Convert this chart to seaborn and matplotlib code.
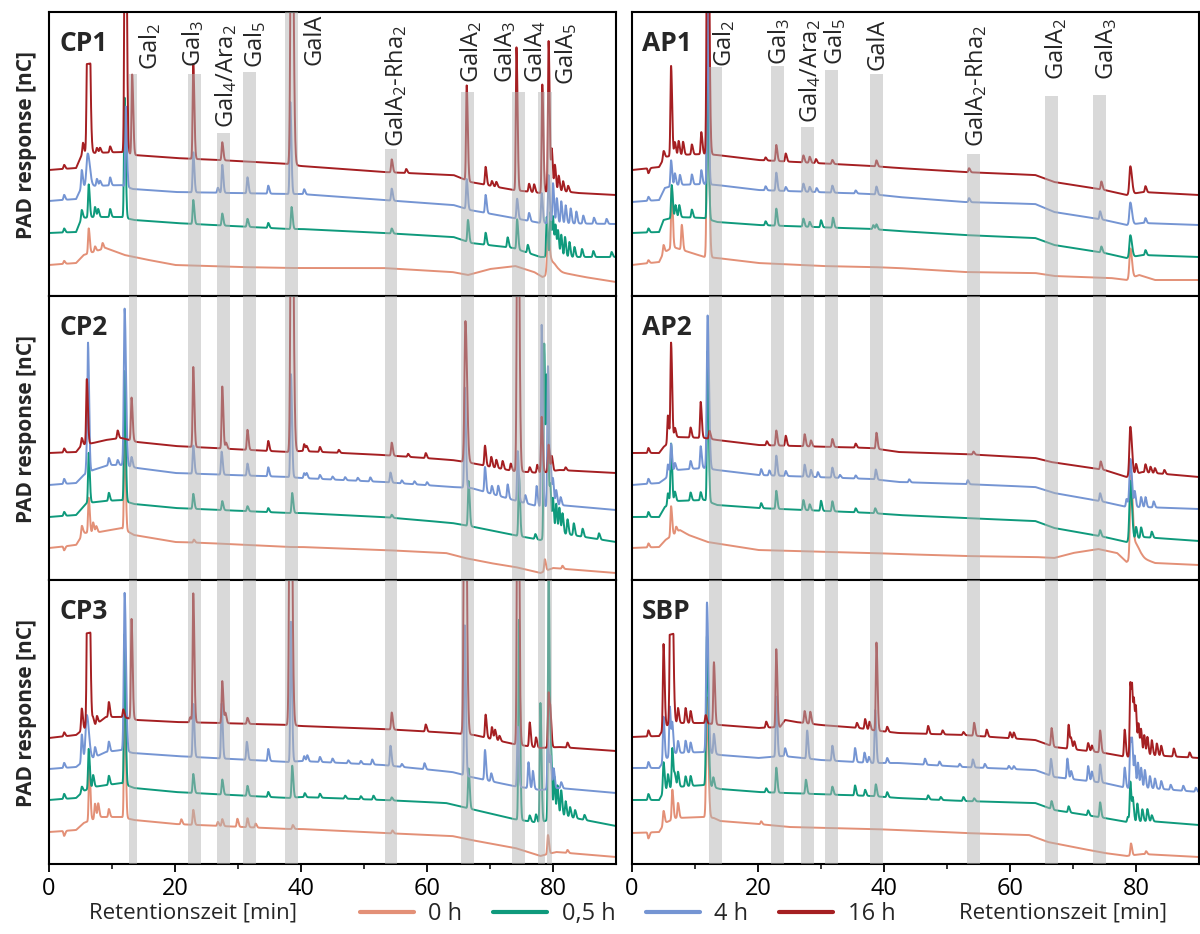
import numpy as np
import pandas as pd
import matplotlib.pyplot as plt
import seaborn as sns
from matplotlib.lines import Line2D

# Hydrolysezeiten und Farben
zeiten = ['0 h', '0,5 h', '4 h', '16 h']
farben = ['#e39077', '#0f9a7c', '#7595d3', '#a51f22']

# Markierte Retentionsfenster (links: CP, rechts: AP/SBP)
banden_links = ['Gal$_2$', 'Gal$_3$', 'Gal$_4$/Ara$_2$', 'Gal$_5$', 'GalA', 'GalA$_2$-Rha$_2$',
                'GalA$_2$', 'GalA$_3$', 'GalA$_4$', 'GalA$_5$']
start_links = [12.7, 22.1, 26.7, 30.8, 37.5, 53.3, 65.4, 73.5, 77.6, 79.0]
ende_links = [13.9, 24.1, 28.7, 32.8, 39.5, 55.3, 67.4, 75.5, 78.7, 79.8]

banden_rechts = ['Gal$_2$', 'Gal$_3$', 'Gal$_4$/Ara$_2$', 'Gal$_5$', 'GalA', 'GalA$_2$-Rha$_2$',
                 'GalA$_2$', 'GalA$_3$']
start_rechts = [12.3, 22.1, 26.9, 30.6, 37.8, 53.2, 65.6, 73.1]
ende_rechts = [14.3, 24.1, 28.9, 32.7, 39.8, 55.2, 67.6, 75.2]

# Chromatogramme: Basislinie (Zeit, Signal) und Peaks (Zeit, Höhe[, Breite[, flach]])
CP1_BASIS = {
    '0 h': [(0, 31), (4.3, 33), (5.5, 41), (6.5, 43), (9, 48), (12, 41), (15, 37), (20, 31), (30, 29), (38, 28),
            (53, 28), (64, 24), (66.5, 21), (70, 27), (74, 30), (77, 24), (78.3, 19), (81, 24), (85, 19), (90, 14)],
    '0,5 h': [(0, 63), (4.3, 64), (5.2, 78), (7, 79), (11.5, 79), (13.5, 76), (20, 73), (38, 67), (40, 67), (53, 63),
              (64.2, 59), (67, 53), (73.7, 48), (78, 39), (90, 39)],
    '4 h': [(0, 95), (4.3, 97), (5.2, 109), (7, 110), (11.5, 111), (13.3, 107), (20, 104), (38, 102), (40, 102),
            (53, 96), (64.2, 91), (66.8, 86), (73.7, 78), (78, 73), (90, 72)],
    '16 h': [(0, 126), (4.3, 128), (5.2, 141), (7, 143), (11.5, 144), (13.5, 141), (20, 138), (30, 135), (38, 132),
             (40, 130), (53, 124), (64.2, 121), (66.9, 114), (73.7, 106), (78, 103), (80, 106), (84, 103), (90, 101)],
}
CP1_PEAKS = {
    '0 h': [(2.4, 3), (6.3, 25), (7.3, 5), (8.5, 6), (79.2, 35, 0.15), (79.8, 12, 0.4)],
    '0,5 h': [(2.4, 4), (5.2, 8), (6.3, 33), (7.3, 10), (7.8, 8), (9.7, 8), (12.0, 120), (22.9, 24), (27.5, 12),
              (31.5, 8), (34.8, 5), (38.5, 22), (54.4, 5), (66.5, 22), (69.3, 12), (72.8, 10), (74.3, 30), (76, 8),
              (79.0, 40), (79.6, 45), (80.0, 38), (80.4, 30), (80.8, 25), (81.3, 22), (81.9, 20), (82.6, 15),
              (83.4, 10), (84.6, 8), (86.4, 6), (89.3, 5)],
    '4 h': [(2.4, 5), (5.2, 17), (6.15, 33, 0.2), (7.6, 7), (8.1, 5), (9.7, 8), (12.2, 80), (22.9, 40), (26.8, 5),
            (27.5, 28), (31.5, 16), (34.8, 8), (38.3, 92), (40.5, 5), (54.4, 12), (66.3, 30), (69.3, 18), (74.3, 20),
            (76.2, 8), (78.2, 30), (79.3, 48), (80.0, 40), (80.6, 25), (81.3, 22), (82.0, 18), (82.8, 15), (83.7, 12),
            (84.8, 8), (86.5, 6), (88.5, 5)],
    '16 h': [(2.4, 4), (5.4, 12), (6.2, 90, 0.15, True), (7.6, 5), (8.1, 5), (9.7, 6), (12.1, 400, 0.12),
             (13.2, 80), (22.9, 95), (27.5, 18), (38.5, 400, 0.15), (54.4, 13), (56.7, 4), (66.3, 95), (69.3, 18),
             (70.3, 5), (71, 5), (74.2, 143), (76.2, 8), (77, 8), (78.3, 108), (79.3, 150), (79.8, 40), (80.3, 25),
             (80.9, 15), (81.6, 10), (82.4, 6)],
}

CP2_BASIS = {
    '0 h': [(0, 32), (4.3, 35), (5.5, 47), (8, 48), (11.5, 52), (13.5, 45), (20, 38), (25, 37), (38, 33), (40, 33),
            (53, 30), (63, 27), (66, 22), (70, 17), (74, 13), (78, 7), (80, 12), (90, 7)],
    '0,5 h': [(0, 63), (4.3, 65), (6, 77), (9, 79), (11.5, 80), (13.5, 76), (20, 72), (38, 67), (40, 67), (53, 63),
              (64, 57), (67.5, 53), (73.7, 45), (78, 40), (81, 47), (90, 38)],
    '4 h': [(0, 95), (4.3, 97), (5.5, 105), (7, 110), (9.5, 115), (11.5, 115), (14, 112), (20, 107), (38, 103),
            (40, 102), (53, 98), (64, 93), (67, 92), (73.7, 80), (78, 73), (81, 75), (90, 70)],
    '16 h': [(0, 127), (4.3, 128), (5.2, 135), (7, 137), (9, 140), (11.5, 142), (14, 138), (20, 134), (38, 128),
             (40, 129), (53, 125), (64, 120), (67, 117), (73.7, 109), (78, 107), (81, 110), (90, 107)],
}
CP2_PEAKS = {
    '0 h': [(2.4, -4), (5.2, 10), (6.3, 35), (7.0, 10), (7.5, 6), (12.0, 100), (23, 3), (78.7, 12), (81.5, 3)],
    '0,5 h': [(2.4, 4), (6.3, 50), (9.5, 8), (12.0, 130), (22.9, 15), (27.5, 9), (31.5, 5), (34.8, 4), (38.6, 20),
              (54.4, 3), (66.6, 45), (74.6, 60), (77.2, 5), (78.6, 195), (79.0, 150), (79.3, 50), (79.6, 40),
              (80.0, 35), (80.5, 30), (81.0, 25), (81.5, 20), (82.3, 15), (83.3, 12), (84.7, 8), (87.3, 6)],
    '4 h': [(2.4, 5), (6.0, 20), (6.2, 120), (9.5, 7), (10.9, 5), (12.0, 157, 0.13), (13.1, 10), (22.9, 28),
            (27.4, 23), (31.5, 12), (34.8, 9), (38.4, 103), (40.5, 5), (40.9, 5), (43, 4), (45, 3), (47, 3), (49, 3),
            (51, 4), (54.2, 10), (56, 3), (58, 3), (60, 3), (66.0, 100), (69.2, 25), (70.3, 8), (71.3, 10),
            (72.8, 14), (74.4, 50), (75.6, 8), (77.4, 20), (78.2, 182), (79.2, 140), (79.6, 40), (80.0, 25),
            (80.5, 15), (81.2, 8)],
    '16 h': [(2.4, 4), (5.2, 7), (6.0, 65), (10.9, 8), (13.1, 43), (22.9, 80), (27.5, 62), (28.1, 6), (31.5, 20),
             (34.8, 10), (38.5, 400, 0.15), (40.5, 7), (40.9, 5), (43, 5), (46, 3), (54.4, 13), (57, 3), (59.8, 5),
             (66.1, 141, 0.15), (69.2, 20), (70.2, 10), (71, 8), (72, 8), (73.3, 7), (74.4, 400, 0.13), (76.3, 5),
             (77.5, 8), (78.2, 56), (79.3, 27), (79.8, 15), (82, 3)],
}

CP3_BASIS = {
    '0 h': [(0, 32), (4.3, 34), (5.5, 41), (8, 47), (11.5, 47), (13.5, 44), (20, 40), (38, 35), (40, 35), (53, 31),
            (64, 28), (67, 24), (74, 16), (78, 8), (80.5, 12), (90, 7)],
    '0,5 h': [(0, 64), (4.3, 66), (5.5, 73), (7, 77), (11.5, 81), (13.5, 76), (20, 72), (38, 66), (40, 67), (53, 64),
              (63, 61), (67, 55), (73.7, 45), (78, 41), (81, 49), (90, 38)],
    '4 h': [(0, 95), (4.3, 97), (5.5, 103), (7, 106), (9, 112), (11.5, 114), (13.3, 111), (20, 108), (38, 102),
            (40, 103), (53, 99), (64, 92), (67, 87), (73.7, 78), (78, 74), (81, 76), (90, 71)],
    '16 h': [(0, 126), (4.3, 129), (5.5, 135), (7, 137), (9, 147), (11.5, 147), (14, 144), (20, 142), (27, 141),
             (38, 139), (40, 138), (53, 135), (64, 131), (67.5, 129), (73.7, 120), (78, 116), (81, 117), (90, 113)],
}
CP3_PEAKS = {
    '0 h': [(2.4, -5), (6.4, 55), (7.3, 15), (7.8, 14), (9.5, 8), (12.0, 140), (21, 5), (22.9, 15), (26.8, 4),
            (27.5, 7), (29.9, 8), (31.5, 9), (32.8, 4), (38.7, 4), (54.5, 3), (79.2, 19), (82.3, 3)],
    '0,5 h': [(2.4, 5), (5.2, 6), (6.3, 40), (7.0, 12), (9.5, 9), (12.0, 150), (22.9, 19), (27.5, 15), (31.5, 10),
              (34.8, 5), (38.6, 32), (40.6, 4), (43, 4), (47, 3), (49.5, 3), (51.5, 4), (54.4, 3), (66.6, 40),
              (74.6, 200), (76.3, 6), (77.3, 8), (78.0, 120), (79.3, 250), (79.7, 60), (80.2, 40), (80.7, 30),
              (81.3, 25), (82, 15), (82.7, 10), (83.5, 8), (85, 5)],
    '4 h': [(2.4, 5), (5.2, 28), (6.0, 45, 0.2), (7.3, 10), (9.5, 10), (12.0, 158, 0.13), (22.9, 53), (27.4, 55),
            (31.4, 18), (34.8, 12), (38.4, 140), (40.5, 5), (41, 6), (43, 5), (45, 4), (47.5, 3), (49.5, 3),
            (51.3, 5), (54.2, 20), (56, 3), (59.6, 6), (66.0, 150), (69.2, 30), (70.2, 8), (74.4, 60), (76.1, 26),
            (76.8, 18), (79.2, 50), (79.6, 30), (80.1, 20), (81.3, 6)],
    '16 h': [(2.4, 4), (5.2, 22), (6.2, 95, 0.15, True), (7.0, 8), (7.6, 8), (9.5, 15), (11.8, 8), (13.1, 100),
             (22.4, 5), (22.9, 129), (27.5, 42), (28, 10), (31.5, 6), (38.3, 400, 0.15), (54.4, 17), (59.8, 7),
             (66.0, 400, 0.15), (69.3, 23), (70.3, 12), (70.8, 10), (71.5, 5), (74.4, 400, 0.12), (76.3, 24),
             (77.3, 10), (79.3, 55), (79.6, 28), (82.3, 5)],
}

AP1_BASIS = {
    '0 h': [(0, 31), (4.3, 34), (5, 43), (6.5, 49), (11.5, 39), (13.5, 38), (20, 33), (30, 30), (38, 29), (42.3, 28),
            (52.6, 24), (64, 23), (67, 20), (71, 19), (76, 18), (78.5, 16), (80.5, 21), (83, 16), (90, 16)],
    '0,5 h': [(0, 63), (4.3, 64), (5, 76), (7, 79), (11.5, 78), (13.5, 74), (20, 71), (38, 67), (42.3, 65),
              (52.6, 61), (64, 58), (67, 51), (75, 43), (78.5, 38), (81, 41), (90, 39)],
    '4 h': [(0, 94), (4.3, 96), (5.2, 108), (7, 111), (11.5, 112), (13.5, 111), (20, 106), (38, 102), (42.3, 99),
            (52.6, 94), (64, 92), (67, 84), (75, 76), (78.5, 71), (81, 73), (90, 71)],
    '16 h': [(0, 126), (4.3, 129), (5.2, 139), (7, 141), (11.5, 142), (13.5, 141), (20, 136), (38, 130), (42.3, 128),
             (52.6, 124), (64, 121), (67, 114), (75, 106), (78.5, 101), (81, 104), (84, 103), (90, 101)],
}
AP1_PEAKS = {
    '0 h': [(2.6, 3), (5.0, 8), (6.3, 60), (7.9, 25), (12.0, 240, 0.13), (79.1, 30, 0.15)],
    '0,5 h': [(2.6, 4), (6.3, 33), (6.9, 12), (7.5, 12), (9.5, 8), (12.0, 180), (21.2, 4), (22.9, 17), (27.2, 8),
              (28.2, 5), (30, 7), (31.9, 10), (38.3, 4), (38.8, 5), (74.5, 6), (79.1, 22, 0.15), (81.5, 5)],
    '4 h': [(2.6, 4), (6.2, 26), (6.8, 12), (7.6, 10), (9.5, 10), (11.0, 14), (12.0, 200), (21.2, 4), (22.9, 18),
            (24.4, 4), (27.2, 8), (28.2, 5), (29.3, 4), (31.8, 7), (35.5, 3), (38.8, 8), (53.5, 4), (74.3, 8),
            (79.1, 22, 0.15), (81.5, 5)],
    '16 h': [(2.6, -5), (5.0, 8), (6.2, 90), (6.8, 13), (7.4, 14), (8.1, 13), (9.5, 10), (11.0, 22),
             (12.0, 400, 0.13), (21.2, 3), (22.9, 16), (24.4, 8), (27.2, 7), (28.2, 6), (29.2, 4), (31.8, 4),
             (38.8, 6), (53.5, 4), (74.5, 8), (79.1, 28, 0.15), (81.5, 6)],
}

AP2_BASIS = {
    '0 h': [(0, 32), (4.3, 33), (5.3, 40), (6.5, 45), (7.6, 50), (9, 45), (12, 38), (15, 35), (20, 30), (38, 27),
            (42.3, 26), (52.6, 24), (64, 23), (67, 22), (70, 27), (74, 31), (77, 27), (78.5, 18), (80, 22), (81, 22),
            (83, 17), (90, 15)],
    '0,5 h': [(0, 63), (4.3, 63), (5.2, 73), (7, 79), (11.5, 80), (13.5, 75), (20, 72), (38, 67), (42.3, 65),
              (52.6, 62), (64, 59), (67, 52), (75, 43), (78.5, 38), (81, 43), (90, 39)],
    '4 h': [(0, 95), (4.3, 97), (5.0, 100), (7, 110), (11.5, 112), (13.5, 110), (20, 105), (38, 101), (42.3, 98),
            (52.6, 96), (64, 93), (67, 87), (75, 78), (78.5, 73), (81, 73), (90, 71)],
    '16 h': [(0, 127), (4.3, 127), (5.0, 133), (7, 143), (11.5, 142), (13.5, 140), (20, 135), (38, 132), (42.3, 128),
             (52.6, 126), (64, 122), (66.5, 118), (75, 110), (78.5, 103), (81, 108), (90, 103)],
}
AP2_PEAKS = {
    '0 h': [(2.6, 4), (6.2, 30), (7.0, 6), (79.2, 80, 0.15), (79.8, 15, 0.4)],
    '0,5 h': [(2.6, 5), (5.7, 12), (6.2, 60), (6.8, 10), (9.3, 8), (10.9, 8), (12.0, 150), (20.5, 5), (22.9, 18),
              (27.2, 10), (28.2, 6), (30, 10), (31.8, 10), (35.5, 4), (38.6, 5), (74.3, 6), (79.1, 60, 0.15),
              (80, 12), (80.8, 10), (82.5, 6)],
    '4 h': [(2.6, 5), (5.7, 12), (6.2, 30), (6.8, 8), (9.3, 8), (10.9, 22), (12.0, 153, 0.13), (20.5, 6), (21.8, 5),
            (22.9, 20), (24.4, 5), (27.4, 12), (28.4, 7), (29.5, 5), (31.8, 10), (33, 3), (35.5, 3), (38.7, 10),
            (44, 3), (53.3, 4), (74.3, 8), (78.5, 8), (79.1, 48, 0.15), (79.8, 15), (80.8, 10), (81.5, 10),
            (82.8, 6)],
    '16 h': [(2.6, 5), (5.7, 28), (6.2, 98), (6.8, 10), (9.3, 10), (10.9, 36), (12.3, 8), (21.4, 4), (22.9, 15),
             (24.4, 10), (27.4, 12), (28.4, 6), (31.8, 8), (35.5, 4), (38.8, 16), (54.2, 3), (74.4, 8),
             (79.1, 49, 0.15), (80, 10), (81.5, 8), (82.3, 6), (83, 5), (84.5, 4)],
}

SBP_BASIS = {
    '0 h': [(0, 31), (4.3, 32), (5.2, 41), (7, 46), (11.5, 47), (13, 46), (14, 43), (20, 40), (25, 37), (38, 35),
            (42.3, 34), (52.6, 31), (63, 29), (66, 22), (70, 17), (75, 11), (78.5, 8), (81, 10), (90, 7)],
    '0,5 h': [(0, 64), (4.3, 64), (5.2, 74), (7, 77), (11.5, 79), (14, 75), (20, 72), (38, 68), (42.3, 66),
              (52.6, 63), (64, 61), (67, 54), (75, 46), (78.5, 42), (82, 43), (90, 39)],
    '4 h': [(0, 96), (4.3, 96), (5.3, 105), (7, 111), (11.5, 112), (14, 109), (20, 106), (24, 108), (30, 104),
            (38, 101), (42.3, 101), (52.6, 97), (64, 94), (67, 87), (75, 81), (78.5, 76), (82, 76), (90, 72)],
    '16 h': [(0, 127), (4.3, 128), (5.3, 138), (7, 141), (11.5, 141), (14, 139), (20, 136), (23.5, 137), (24.3, 144),
             (26, 142), (30, 139), (36, 136), (38, 134), (42.3, 131), (52.6, 129), (64, 124), (67, 117), (75, 111),
             (78.5, 107), (82, 109), (90, 106)],
}
SBP_PEAKS = {
    '0 h': [(2.6, -6), (5.0, 14), (6.4, 30), (7.3, 15), (11.9, 120, 0.13), (20.5, 3), (79.2, 12), (81.6, 3)],
    '0,5 h': [(2.6, 6), (5.0, 30), (5.7, 15), (6.4, 40), (6.8, 12), (7.3, 15), (8.5, 10), (9.3, 10),
              (11.9, 150, 0.13), (12.9, 10), (21.3, 4), (22.9, 25), (27.6, 14), (31.8, 8), (35.4, 10), (37, 6),
              (38.7, 12), (40.5, 5), (47, 4), (49, 3), (52.6, 4), (54.3, 3), (66.6, 8), (69.3, 6), (72.4, 5),
              (74.3, 15), (78.7, 5), (79.1, 40), (79.5, 22), (80.2, 18), (81, 12), (81.8, 12), (82.5, 6)],
    '4 h': [(2.6, 6), (5.0, 45), (6.0, 50), (6.4, 30), (7.3, 12), (8.5, 12), (9.3, 10), (11.9, 150, 0.13), (13, 20),
            (22.9, 60), (24.3, 8), (27.8, 28), (31.8, 15), (35.4, 14), (36.9, 10), (37.6, 6), (38.6, 53), (40.5, 5),
            (46.5, 6), (48.8, 4), (52, 3), (54.1, 8), (56, 4), (59.8, 3), (60.6, 3), (66.5, 17), (69.1, 20),
            (69.7, 8), (72.4, 15), (73, 10), (74.3, 18), (78.2, 20), (79.1, 50), (79.4, 38), (79.8, 30), (80.3, 25),
            (80.8, 20), (81.4, 18), (82.2, 12), (83, 10), (84, 8), (85.5, 5), (87.5, 5), (89.5, 4)],
    '16 h': [(2.6, 6), (5.0, 85), (6.2, 90, 0.15, True), (7.3, 15), (8.5, 15), (9.3, 12), (11.7, 8), (13.0, 62),
             (21.3, 6), (22.9, 78), (27.4, 12), (28.3, 12), (35.7, 5), (37.0, 10), (37.7, 8), (38.8, 88), (40.5, 5),
             (47, 8), (49.3, 4), (52.6, 3), (54.3, 13), (56.3, 7), (60, 6), (60.6, 6), (66.6, 18), (69.3, 24),
             (69.7, 10), (70.2, 8), (72.4, 8), (73, 6), (74.3, 22), (78.2, 27), (79.1, 74), (79.4, 55), (79.7, 45),
             (80.0, 40), (80.4, 30), (80.8, 25), (81.3, 20), (81.8, 18), (82.5, 15), (83.3, 12), (84, 10), (86, 8),
             (88.5, 5)],
}

panels = [
    ('CP1', CP1_BASIS, CP1_PEAKS, 0, 0), ('AP1', AP1_BASIS, AP1_PEAKS, 0, 1),
    ('CP2', CP2_BASIS, CP2_PEAKS, 1, 0), ('AP2', AP2_BASIS, AP2_PEAKS, 1, 1),
    ('CP3', CP3_BASIS, CP3_PEAKS, 2, 0), ('SBP', SBP_BASIS, SBP_PEAKS, 2, 1),
]

t = np.round(np.arange(0, 90.001, 0.02), 3)


def spur(basis, peaks):
    y = np.interp(t, [k[0] for k in basis], [k[1] for k in basis])
    for p in peaks:
        s = p[2] if len(p) > 2 else 0.1
        sig = np.where(t < p[0], s, 1.7 * s)
        g = np.exp(-0.5 * ((t - p[0]) / sig) ** 2)
        if len(p) > 3:
            # abgeschnittener (übersteuerter) Peak
            g = np.minimum(1, 3 * g)
        y = y + p[1] * g
    return y


sns.set_theme(style="ticks")
plt.rcParams['font.family'] = ['Open Sans', 'DejaVu Sans']
plt.rcParams['mathtext.default'] = 'regular'

fig = plt.figure(figsize=(12, 9.34), dpi=100)
links = [49 / 1200, 632 / 1200]
unten = [1 - 296 / 934, 1 - 580 / 934, 1 - 864 / 934]
breite, hoehe = 567 / 1200, 284 / 934

# Beschriftungen der Banden in der oberen Reihe (x in min, y als Achsenanteil)
lab_x_links = [16.0, 22.9, 28.1, 32.7, 42.1, 55.1, 67.0, 72.4, 77.1, 82.1]
lab_y_links = [0.796, 0.806, 0.592, 0.803, 0.813, 0.525, 0.75, 0.75, 0.75, 0.743]
top_links = [0.782, 0.782, 0.574, 0.789, 1.0, 0.518, 0.718, 0.718, 0.718, 0.718]
lab_x_rechts = [14.7, 23.4, 28.3, 32.2, 38.9, 54.7, 67.3, 75.2]
lab_y_rechts = [0.806, 0.813, 0.609, 0.813, 0.796, 0.525, 0.761, 0.761]
top_rechts = [0.806, 0.81, 0.595, 0.796, 0.782, 0.5, 0.704, 0.708]

for name, basis, peaks, zeile, spalte in panels:
    ax = fig.add_axes([links[spalte], unten[zeile], breite, hoehe])
    frames = []
    for z in zeiten:
        frames.append(pd.DataFrame({'Zeit': t, 'Signal': spur(basis[z], peaks[z]), 'Hydrolyse': z}))
    df = pd.concat(frames, ignore_index=True)
    sns.lineplot(data=df, x='Zeit', y='Signal', hue='Hydrolyse', hue_order=zeiten, palette=farben,
                 estimator=None, legend=False, linewidth=1.4, ax=ax)

    if spalte == 0:
        st, en, lab, lx, ly, tp = start_links, ende_links, banden_links, lab_x_links, lab_y_links, top_links
    else:
        st, en, lab, lx, ly, tp = start_rechts, ende_rechts, banden_rechts, lab_x_rechts, lab_y_rechts, top_rechts
    for i in range(len(st)):
        ax.axvspan(st[i], en[i], ymin=0, ymax=tp[i] if zeile == 0 else 1, color='#b5b5b5', alpha=0.5,
                   lw=0, zorder=5)
        if zeile == 0:
            ax.text(lx[i], ly[i], lab[i], rotation=90, ha='center', va='bottom', fontsize=17,
                    transform=ax.get_xaxis_transform(), zorder=6)

    ax.set_xlim(0, 90)
    ax.set_ylim(0, 284)
    ax.set_yticks([])
    ax.set_xticks([0, 20, 40, 60, 80])
    ax.set_xticks([10, 30, 50, 70], minor=True)
    ax.tick_params(axis='x', which='major', length=6, width=1.3, labelsize=17, direction='out', colors='black')
    ax.tick_params(axis='x', which='minor', length=3.5, width=1.3, direction='out')
    for sp in ax.spines.values():
        sp.set_linewidth(1.5)
        sp.set_color('black')
    ax.text(0.018, 0.89, name, transform=ax.transAxes, fontsize=19, fontweight='bold', va='center', ha='left')

    if zeile < 2:
        ax.tick_params(axis='x', which='both', bottom=False, labelbottom=False)
        ax.set_xlabel('')
    else:
        ax.set_xlabel('Retentionszeit [min]', fontsize=16)
        ax.xaxis.set_label_coords(0.254 if spalte == 0 else 0.76, -0.135)
    if spalte == 0:
        ax.set_ylabel('PAD response [nC]', fontsize=15, fontweight='bold')
        ax.yaxis.set_label_coords(-0.022, 0.53)
    else:
        ax.set_ylabel('')

handles = [Line2D([], [], color=c, lw=3) for c in farben]
fig.legend(handles, zeiten, loc='center', bbox_to_anchor=(0.523, 0.021), ncol=4, frameon=False, fontsize=17,
           handlelength=2.3, handletextpad=0.6, columnspacing=1.3)

plt.savefig('out.png', dpi=100)
